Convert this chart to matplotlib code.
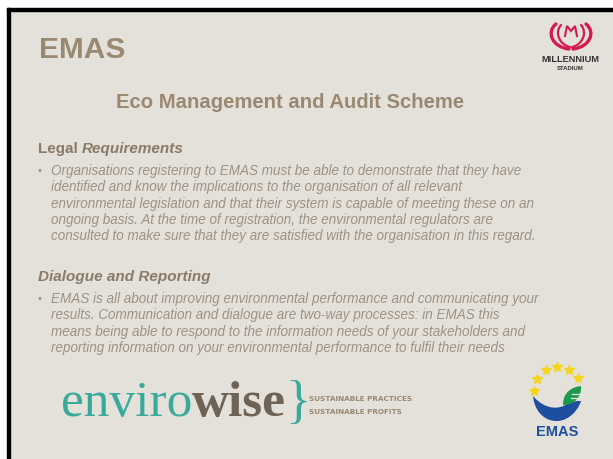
import numpy as np
import matplotlib.pyplot as plt
from matplotlib.patches import Rectangle, PathPatch
from matplotlib.path import Path

# slide text
title = "EMAS"
subtitle = "Eco Management and Audit Scheme"
head1_a, head1_b = "Legal ", "Requirements"
body1 = [
    "Organisations registering to EMAS must be able to demonstrate that they have",
    "identified and know the implications to the organisation of all relevant",
    "environmental legislation and that their system is capable of meeting these on an",
    "ongoing basis. At the time of registration, the environmental regulators are",
    "consulted to make sure that they are satisfied with the organisation in this regard.",
]
head2 = "Dialogue and Reporting"
body2 = [
    "EMAS is all about improving environmental performance and communicating your",
    "results. Communication and dialogue are two-way processes: in EMAS this",
    "means being able to respond to the information needs of your stakeholders and",
    "reporting information on your environmental performance to fulfil their needs",
]
tagline = ["SUSTAINABLE PRACTICES", "SUSTAINABLE PROFITS"]

BG = "#e4e1db"
HEAD = "#9a8870"
SUB = "#8a7a66"
BODY = "#9d9282"
TEAL = "#3aa99a"
DARK = "#6e6354"
RED = "#d41c4c"
BLUE = "#1d4f9e"
GREEN = "#1e9a4e"

plt.rcParams['font.family'] = ['Liberation Sans', 'DejaVu Sans']

fig = plt.figure(figsize=(6.13, 4.6), dpi=100)
ax = fig.add_axes([0, 0, 1, 1])
ax.set_xlim(0, 613)
ax.set_ylim(460, 0)
ax.axis('off')

# slide background + black frame on top/left
ax.add_patch(Rectangle((10, 12), 603, 448, color=BG, zorder=0))
ax.add_patch(Rectangle((7, 9), 606, 3, color='black', zorder=1))
ax.add_patch(Rectangle((7, 9), 3, 451, color='black', zorder=1))

ax.text(39, 50, title, fontsize=21.5, fontweight='bold', color=HEAD, va='center', ha='left')
ax.text(290, 102, subtitle, fontsize=14.6, fontweight='bold', color=HEAD, va='center', ha='center')

# section 1
t = ax.text(38, 149, head1_a, fontsize=11, fontweight='bold', color=SUB, va='center', ha='left')
ax.annotate(head1_b, xycoords=t, xy=(1, 0.5), va='center', ha='left', fontsize=11,
            fontweight='bold', fontstyle='italic', color=SUB)
y0 = 171
for i, line in enumerate(body1):
    ax.text(51, y0 + i * 16.3, line, fontsize=9.75, fontstyle='italic', color=BODY, va='center', ha='left')
ax.text(38, y0, "\u2022", fontsize=8, color=BODY, va='center', ha='left')

# section 2
ax.text(38, 277, head2, fontsize=11, fontweight='bold', fontstyle='italic', color=SUB, va='center', ha='left')
y0 = 299
for i, line in enumerate(body2):
    ax.text(51, y0 + i * 16.3, line, fontsize=9.75, fontstyle='italic', color=BODY, va='center', ha='left')
ax.text(38, y0, "\u2022", fontsize=8, color=BODY, va='center', ha='left')

# envirowise logo
t = ax.text(61, 416, "enviro", fontsize=37, family='Liberation Serif', color=TEAL, va='baseline', ha='left')
ax.annotate("wise", xycoords=t, xy=(1, 0), va='bottom', ha='left', fontsize=37,
            family='Liberation Serif', fontweight='bold', color=DARK)
ax.text(298, 404, "}", fontsize=38, family='Liberation Serif', color=TEAL, va='center', ha='center')
for i, line in enumerate(tagline):
    ax.text(309, 399 + i * 13, line, fontsize=5.2, fontweight='bold', family='Liberation Sans Narrow',
            color=HEAD, va='center', ha='left')

# millennium stadium logo
def curve(pts, color, lw):
    p = Path(pts, [Path.MOVETO] + [Path.CURVE4] * (len(pts) - 1))
    ax.add_patch(PathPatch(p, fill=False, ec=color, lw=lw, capstyle='round'))

cx = 571
for s in (-1, 1):
    curve([(cx + s * 15, 25), (cx + s * 25, 33), (cx + s * 19, 48), (cx + s * 2, 50)], RED, 2.4)
    curve([(cx + s * 10, 26), (cx + s * 17, 34), (cx + s * 11, 46), (cx + s * 1, 48)], RED, 1.6)
ax.plot([cx - 6, cx - 4, cx, cx + 4, cx + 6], [37, 27, 32, 27, 37], color=RED, lw=1.5,
        solid_joinstyle='miter')
ax.text(cx - 1, 60, "MILLENNIUM", fontsize=6.7, fontweight='bold', color='#333333', va='center', ha='center')
ax.text(cx - 1, 68, "STADIUM", fontsize=4.3, fontweight='bold', color='#333333', va='center', ha='center')

# EMAS logo
star_ang = np.linspace(180, 32, 6)
for a in star_ang:
    ax.plot(558 + 24 * np.cos(np.radians(a)), 392 - 24 * np.sin(np.radians(a)), marker='*',
            ms=7, color='#f5d41e', mec='#f5d41e', ls='none')
wave = Path([(533, 397), (546, 412), (560, 410), (567, 405),
             (572, 402), (577, 402), (581, 402),
             (578, 412), (566, 426), (550, 421),
             (540, 418), (534, 408), (533, 397)],
            [Path.MOVETO, Path.CURVE4, Path.CURVE4, Path.CURVE4,
             Path.CURVE4, Path.CURVE4, Path.CURVE4,
             Path.CURVE4, Path.CURVE4, Path.CURVE4,
             Path.CURVE4, Path.CURVE4, Path.CURVE4])
ax.add_patch(PathPatch(wave, fc=BLUE, ec='none'))
leaf = Path([(563, 406), (563, 393), (572, 388), (581, 387),
             (582, 397), (575, 406), (563, 406)],
            [Path.MOVETO, Path.CURVE4, Path.CURVE4, Path.CURVE4,
             Path.CURVE4, Path.CURVE4, Path.CURVE4])
ax.add_patch(PathPatch(leaf, fc=GREEN, ec='none'))
ax.plot([572, 580], [395, 395], color=BG, lw=0.9)
ax.plot([571, 578], [399, 399], color=BG, lw=0.9)
ax.text(557, 432, "EMAS", fontsize=10.5, fontweight='bold', color=BLUE, va='center', ha='center')

fig.savefig("out.png", dpi=100, facecolor='white')
